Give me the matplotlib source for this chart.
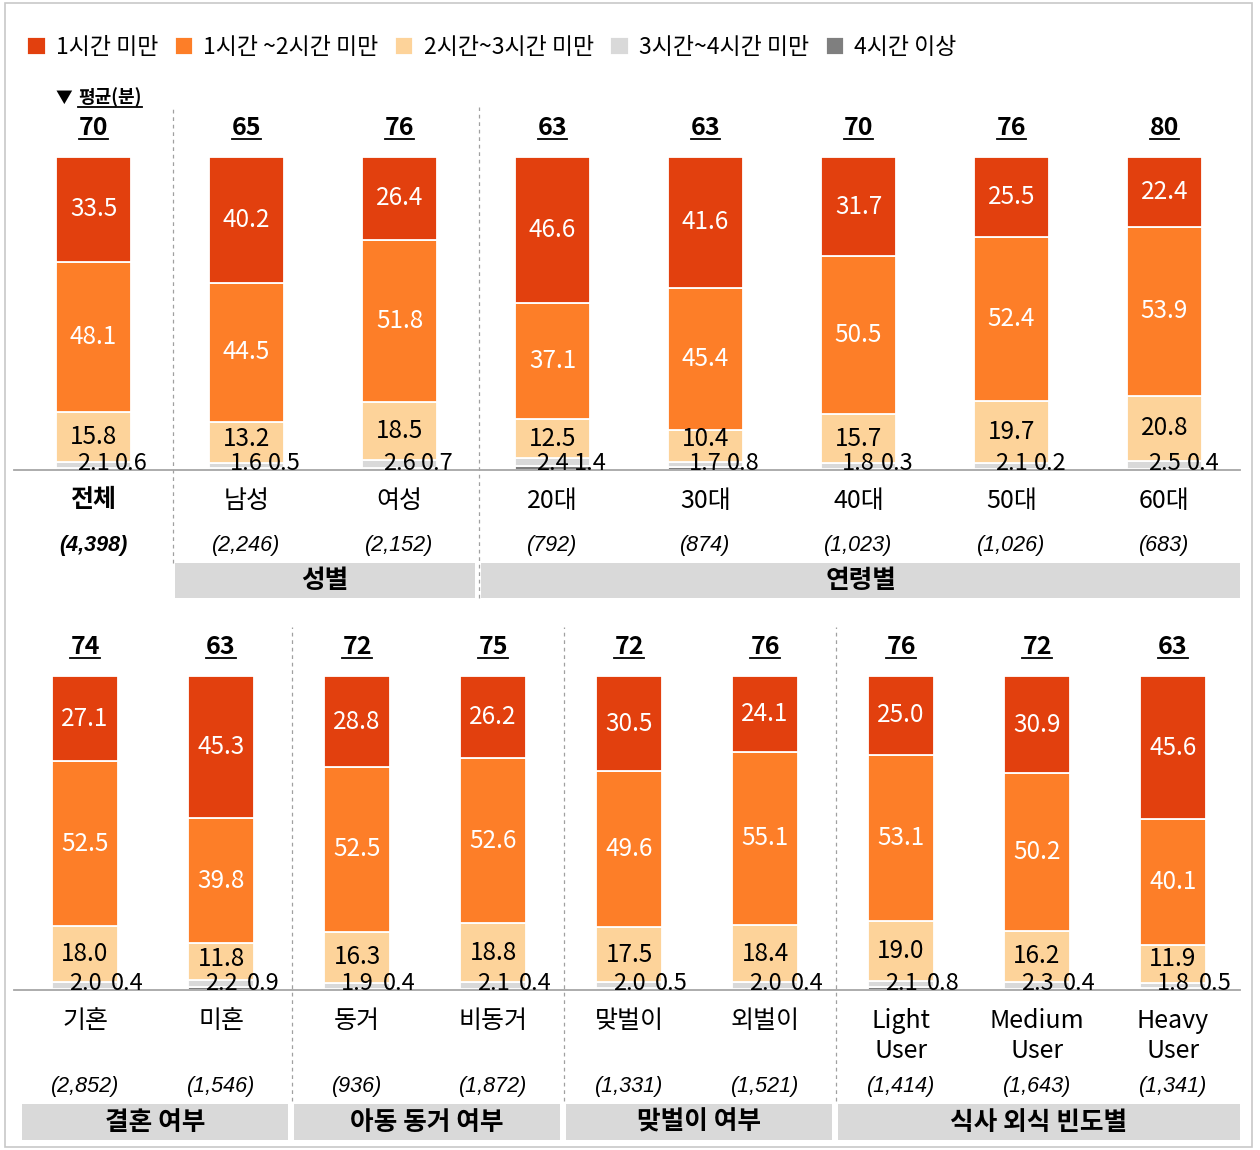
import numpy as np
import matplotlib
matplotlib.use('Agg')
import matplotlib.pyplot as plt
from matplotlib.patches import Rectangle
from matplotlib.lines import Line2D

plt.rcParams['font.family'] = ['Noto Sans CJK KR', 'DejaVu Sans']
num_font = ['Noto Sans CJK KR', 'DejaVu Sans']
italic_font = ['Liberation Sans', 'DejaVu Sans']

# legend / colours
legend_labels = ['1시간 미만', '1시간 ~2시간 미만', '2시간~3시간 미만', '3시간~4시간 미만', '4시간 이상']
colors = ['#E2400E', '#FD7E28', '#FDD39A', '#D9D9D9', '#7F7F7F']

# top panel data
top_cats = ['전체', '남성', '여성', '20대', '30대', '40대', '50대', '60대']
top_sizes = ['(4,398)', '(2,246)', '(2,152)', '(792)', '(874)', '(1,023)', '(1,026)', '(683)']
top_avg = [70, 65, 76, 63, 63, 70, 76, 80]
top_lt1 = [33.5, 40.2, 26.4, 46.6, 41.6, 31.7, 25.5, 22.4]
top_1to2 = [48.1, 44.5, 51.8, 37.1, 45.4, 50.5, 52.4, 53.9]
top_2to3 = [15.8, 13.2, 18.5, 12.5, 10.4, 15.7, 19.7, 20.8]
top_3to4 = [2.1, 1.6, 2.6, 2.4, 1.7, 1.8, 2.1, 2.5]
top_4plus = [0.6, 0.5, 0.7, 1.4, 0.8, 0.3, 0.2, 0.4]
top_groups = [('성별', 1, 2), ('연령별', 3, 7)]

# bottom panel data
bot_cats = ['기혼', '미혼', '동거', '비동거', '맞벌이', '외벌이', 'Light\nUser', 'Medium\nUser', 'Heavy\nUser']
bot_sizes = ['(2,852)', '(1,546)', '(936)', '(1,872)', '(1,331)', '(1,521)', '(1,414)', '(1,643)', '(1,341)']
bot_avg = [74, 63, 72, 75, 72, 76, 76, 72, 63]
bot_lt1 = [27.1, 45.3, 28.8, 26.2, 30.5, 24.1, 25.0, 30.9, 45.6]
bot_1to2 = [52.5, 39.8, 52.5, 52.6, 49.6, 55.1, 53.1, 50.2, 40.1]
bot_2to3 = [18.0, 11.8, 16.3, 18.8, 17.5, 18.4, 19.0, 16.2, 11.9]
bot_3to4 = [2.0, 2.2, 1.9, 2.1, 2.0, 2.0, 2.1, 2.3, 1.8]
bot_4plus = [0.4, 0.9, 0.4, 0.4, 0.5, 0.4, 0.8, 0.4, 0.5]
bot_groups = [('결혼 여부', 0, 1), ('아동 동거 여부', 2, 3), ('맞벌이 여부', 4, 5), ('식사 외식 빈도별', 6, 8)]

W, H = 1260, 1150
fig = plt.figure(figsize=(W / 100, H / 100), dpi=100)
fig.patch.set_facecolor('white')

# outer frame
fig.add_artist(Rectangle((5 / W, 3 / H), 1247 / W, 1144 / H, transform=fig.transFigure,
                         fill=False, edgecolor='#C8C8C8', lw=1.2))

underlined = []


def draw_panel(ax, cats, sizes, avgs, series, groups, bar_w, off4, pos):
    n = len(cats)
    x = np.arange(n)
    bottom = np.zeros(n)
    bottoms = [None] * 5
    handles = [None] * 5
    for k in range(4, -1, -1):
        vals = np.array(series[k])
        bottoms[k] = bottom.copy()
        handles[k] = ax.bar(x, vals, bottom=bottom, width=bar_w, color=colors[k],
                            edgecolor='white', linewidth=1.3, label=legend_labels[k])
        bottom = bottom + vals

    for i in range(n):
        for k in (0, 1):
            v = series[k][i]
            ax.text(x[i], bottoms[k][i] + v / 2, f'{v:.1f}', ha='center', va='center',
                    color='white', fontsize=17.5, family=num_font)
        v = series[2][i]
        ax.text(x[i], max(bottoms[2][i] + v / 2, 9.8), f'{v:.1f}', ha='center', va='center',
                color='black', fontsize=17.5, family=num_font)
        ax.text(x[i], 2.0, f'{series[3][i]:.1f}', ha='center', va='center',
                color='black', fontsize=17, family=num_font)
        ax.text(x[i] + off4, 2.0, f'{series[4][i]:.1f}', ha='center', va='center',
                color='black', fontsize=17, family=num_font)

        t = ax.text(x[i], 107, str(avgs[i]), ha='center', va='baseline', fontsize=18,
                    fontweight='bold', family=num_font, clip_on=False)
        underlined.append((ax, t, 107))
        ax.text(x[i], -5.6, cats[i], ha='center', va='top', fontsize=18,
                fontweight='bold' if cats[i] == '전체' else 'normal', linespacing=1.2,
                clip_on=False)
        ax.text(x[i], pos['size_y'], sizes[i], ha='center', va='center', fontsize=15.5,
                style='italic', fontweight='bold' if cats[i] == '전체' else 'normal',
                family=italic_font, clip_on=False)

    x0, x1 = ax.get_xlim()
    for name, a, b in groups:
        left = max(a - 0.465, x0)
        right = min(b + 0.495, x1)
        ax.add_patch(Rectangle((left, pos['box_bot']), right - left, pos['box_top'] - pos['box_bot'],
                               facecolor='#D9D9D9', edgecolor='none', clip_on=False))
        ax.text((left + right) / 2, (pos['box_top'] + pos['box_bot']) / 2, name,
                ha='center', va='center', fontsize=18.5, fontweight='bold', clip_on=False)

    for xd, yb in pos['dashes']:
        ax.plot([xd, xd], [yb, pos['dash_top']], color='#A0A0A0', lw=0.9,
                ls=(0, (3, 3)), clip_on=False)

    for s in ('top', 'right', 'left'):
        ax.spines[s].set_visible(False)
    ax.spines['bottom'].set_color('#A6A6A6')
    ax.spines['bottom'].set_linewidth(1.3)
    ax.set_xticks([])
    ax.set_yticks([])
    ax.set_ylim(0, 100)
    return handles


# top panel
ax1 = fig.add_axes([14 / W, 1 - 470 / H, 1226 / W, 313 / H])
ax1.set_xlim((14 - 93.5) / 153, (1240 - 93.5) / 153)
ax1.set_facecolor('none')
handles = draw_panel(ax1, top_cats, top_sizes, top_avg,
                     [top_lt1, top_1to2, top_2to3, top_3to4, top_4plus], top_groups,
                     0.49, 0.25,
                     {'size_y': -24.0, 'box_top': -29.7, 'box_bot': -40.9,
                      'dash_top': 116, 'dashes': [(0.52, -29.7), (2.52, -40.9)]})

ax1.text(-0.25, 117.3, '▼', ha='left', va='baseline', fontsize=12, clip_on=False)
t = ax1.text(-0.10, 117.3, '평균(분)', ha='left', va='baseline', fontsize=13,
             fontweight='bold', clip_on=False)
underlined.append((ax1, t, 117.3))

# bottom panel
ax2 = fig.add_axes([14 / W, 1 - 990 / H, 1226 / W, 314 / H])
ax2.set_xlim((14 - 85) / 136, (1240 - 85) / 136)
ax2.set_facecolor('none')
draw_panel(ax2, bot_cats, bot_sizes, bot_avg,
           [bot_lt1, bot_1to2, bot_2to3, bot_3to4, bot_4plus], bot_groups,
           0.485, 0.31,
           {'size_y': -30.6, 'box_top': -36.3, 'box_bot': -47.8,
            'dash_top': 115.6, 'dashes': [(1.52, -35.5), (3.52, -35.5), (5.52, -35.5)]})

fig.legend(handles, legend_labels, loc='upper left', bbox_to_anchor=(18 / W, 1 - 27 / H),
           ncol=5, frameon=False, fontsize=16.5, handlelength=0.8, handleheight=0.8,
           handletextpad=0.45, columnspacing=0.72, borderaxespad=0)

# underline averages
fig.canvas.draw()
renderer = fig.canvas.get_renderer()
inv = fig.transFigure.inverted()
for ax, t, yb in underlined:
    bb = t.get_window_extent(renderer)
    ypix = ax.transData.transform((0, yb))[1] - 4
    (fx0, fy), (fx1, _) = inv.transform([(bb.x0, ypix), (bb.x1, ypix)])
    fig.add_artist(Line2D([fx0, fx1], [fy, fy], transform=fig.transFigure,
                          color='black', lw=1.3))

fig.savefig('out.png', dpi=100, facecolor='white')
